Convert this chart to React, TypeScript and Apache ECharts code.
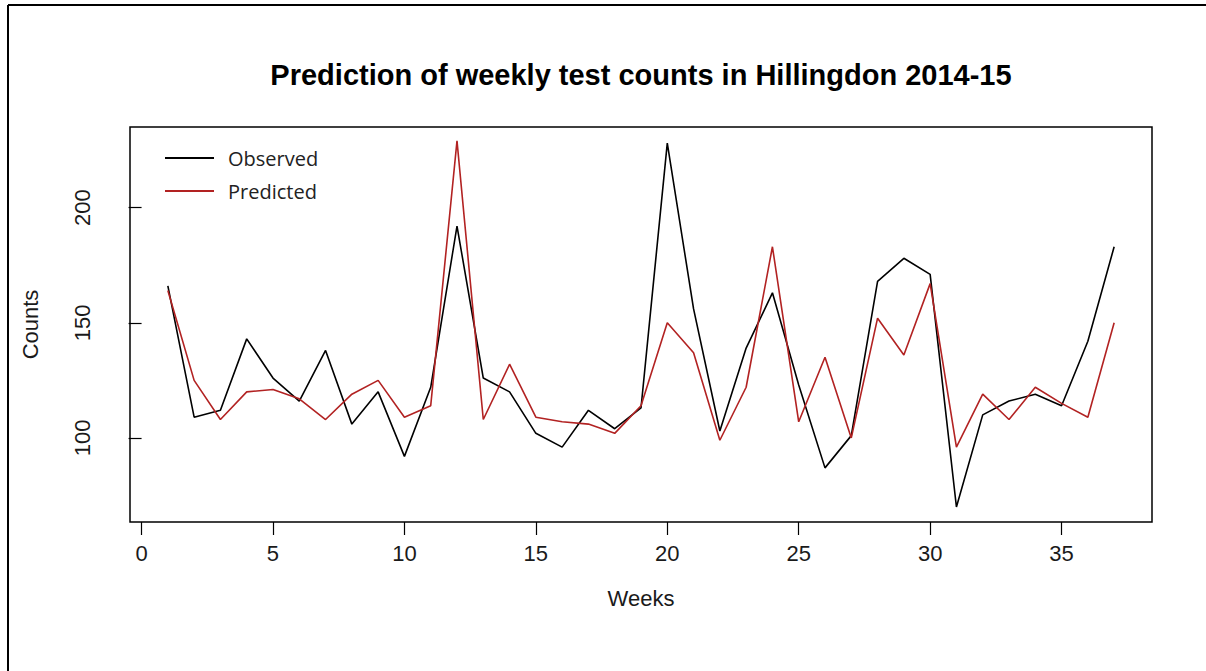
import React, { useEffect, useRef } from "react";
import * as echarts from "echarts";

const weeks = [1, 2, 3, 4, 5, 6, 7, 8, 9, 10, 11, 12, 13, 14, 15, 16, 17, 18, 19, 20, 21, 22, 23, 24, 25, 26, 27, 28, 29, 30, 31, 32, 33, 34, 35, 36, 37];
const observed = [166, 109, 112, 143, 126, 116, 138, 106, 120, 92, 122, 192, 126, 120, 102, 96, 112, 104, 113, 228, 156, 103, 139, 163, 123, 87, 101, 168, 178, 171, 70, 110, 116, 119, 114, 142, 183];
const predicted = [164, 125, 108, 120, 121, 117, 108, 119, 125, 109, 114, 229, 108, 132, 109, 107, 106, 102, 114, 150, 137, 99, 122, 183, 107, 135, 100, 152, 136, 167, 96, 119, 108, 122, 115, 109, 150];
const xTicks = [0, 5, 10, 15, 20, 25, 30, 35];
const yTicks = [100, 150, 200];

const title = "Prediction of weekly test counts in Hillingdon 2014-15";
const seriesNames = ["Observed", "Predicted"];

export default function App() {
  const ref = useRef<HTMLDivElement>(null);
  useEffect(() => {
    if (!ref.current) return;
    const chart = echarts.init(ref.current, null, { renderer: "svg" });
    const font = "'Liberation Sans', Arial, sans-serif";
    chart.setOption({
      animation: false,
      backgroundColor: "#ffffff",
      graphic: [
        { type: "line", shape: { x1: 8, y1: 5, x2: 8, y2: 671 }, style: { stroke: "#000", lineWidth: 2 } },
        { type: "line", shape: { x1: 8, y1: 5, x2: 1206, y2: 5 }, style: { stroke: "#000", lineWidth: 2 } },
        {
          type: "text",
          x: 641,
          y: 75,
          style: {
            text: title,
            font: "bold 29px 'Liberation Sans', Arial, sans-serif",
            fill: "#000",
            textAlign: "center",
            textVerticalAlign: "middle",
          },
        },
      ],
      legend: {
        left: 160,
        top: 143,
        orient: "vertical",
        icon: "rect",
        itemWidth: 49,
        itemHeight: 2,
        itemGap: 13,
        data: seriesNames,
        textStyle: {
          fontFamily: "'Open Sans', sans-serif",
          fontSize: 20,
          lineHeight: 20,
          color: "#222",
          padding: [0, 0, 0, 9],
        },
      },
      grid: {
        left: 130,
        top: 127,
        width: 1022,
        height: 395,
        show: true,
        borderColor: "#000",
        borderWidth: 1.5,
        backgroundColor: "transparent",
      },
      xAxis: {
        type: "value",
        min: -0.44,
        max: 38.44,
        splitLine: { show: false },
        axisLine: { show: false },
        axisTick: { show: true, length: 13, customValues: xTicks, lineStyle: { color: "#000", width: 1.2 } },
        axisLabel: {
          customValues: xTicks,
          margin: 20,
          fontFamily: font,
          fontSize: 22,
          color: "#1a1a1a",
          formatter: (v: number) => String(Math.round(v)),
        },
        name: "Weeks",
        nameLocation: "middle",
        nameGap: 65,
        nameTextStyle: { fontFamily: font, fontSize: 22, color: "#1a1a1a" },
      },
      yAxis: {
        type: "value",
        min: 63.5,
        max: 235,
        splitLine: { show: false },
        axisLine: { show: false },
        axisTick: { show: true, length: 13, customValues: yTicks, lineStyle: { color: "#000", width: 1.2 } },
        axisLabel: {
          customValues: yTicks,
          rotate: 90,
          margin: 37,
          fontFamily: font,
          fontSize: 22,
          color: "#1a1a1a",
          formatter: (v: number) => String(Math.round(v)),
        },
        name: "Counts",
        nameLocation: "middle",
        nameRotate: 90,
        nameGap: 89,
        nameTextStyle: { fontFamily: font, fontSize: 22, color: "#1a1a1a" },
      },
      series: [
        {
          name: seriesNames[0],
          type: "line",
          data: weeks.map((w, i) => [w, observed[i]]),
          symbol: "none",
          color: "#000000",
          lineStyle: { color: "#000000", width: 1.6 },
        },
        {
          name: seriesNames[1],
          type: "line",
          data: weeks.map((w, i) => [w, predicted[i]]),
          symbol: "none",
          color: "#b22222",
          lineStyle: { color: "#b22222", width: 1.6 },
        },
      ],
    });
    return () => chart.dispose();
  }, []);
  return (
    <div
      ref={ref}
      style={{ position: "fixed", left: 0, top: 0, width: 1206, height: 671, background: "#fff" }}
    />
  );
}
